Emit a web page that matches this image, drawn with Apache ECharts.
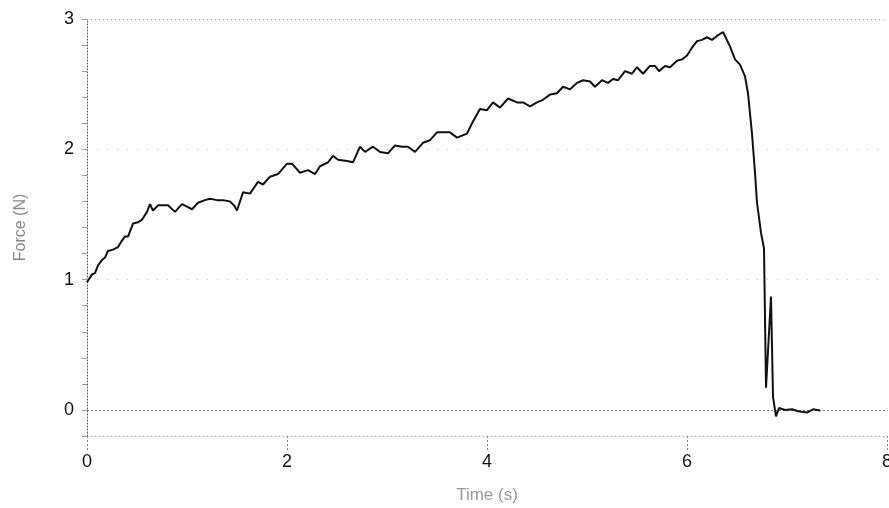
<!DOCTYPE html>
<html>
<head>
<meta charset="utf-8">
<script src="https://cdn.jsdelivr.net/npm/echarts@6/dist/echarts.min.js"></script>
<style>
html,body{margin:0;padding:0;background:#fff;}
#c{width:889px;height:508px;}
</style>
</head>
<body>
<div id="c"></div>
<script>
const timeS = [0, 0.05, 0.08, 0.11, 0.15, 0.18, 0.21, 0.26, 0.31, 0.35, 0.38, 0.41, 0.46, 0.51, 0.55, 0.60, 0.63, 0.66, 0.71, 0.78, 0.81, 0.88, 0.95, 1.0, 1.05, 1.11, 1.18, 1.23, 1.30, 1.36, 1.43, 1.47, 1.50, 1.53, 1.56, 1.63, 1.71, 1.76, 1.83, 1.91, 2.0, 2.05, 2.13, 2.21, 2.28, 2.33, 2.41, 2.46, 2.51, 2.6, 2.66, 2.73, 2.78, 2.86, 2.93, 3.01, 3.08, 3.15, 3.21, 3.28, 3.36, 3.43, 3.50, 3.55, 3.63, 3.70, 3.80, 3.85, 3.93, 4.0, 4.06, 4.13, 4.21, 4.3, 4.36, 4.43, 4.5, 4.56, 4.63, 4.7, 4.76, 4.83, 4.9, 4.96, 5.03, 5.08, 5.15, 5.21, 5.26, 5.31, 5.38, 5.45, 5.5, 5.56, 5.63, 5.68, 5.72, 5.78, 5.83, 5.90, 5.95, 6.0, 6.05, 6.10, 6.15, 6.2, 6.25, 6.3, 6.36, 6.43, 6.48, 6.53, 6.58, 6.61, 6.65, 6.68, 6.70, 6.74, 6.77, 6.79, 6.84, 6.86, 6.89, 6.92, 6.98, 7.05, 7.11, 7.20, 7.26, 7.33];
const forceN = [0.98, 1.04, 1.05, 1.11, 1.15, 1.17, 1.22, 1.23, 1.25, 1.30, 1.33, 1.33, 1.43, 1.44, 1.46, 1.52, 1.58, 1.53, 1.57, 1.57, 1.57, 1.52, 1.58, 1.56, 1.54, 1.59, 1.61, 1.62, 1.61, 1.61, 1.60, 1.57, 1.53, 1.60, 1.67, 1.66, 1.75, 1.73, 1.79, 1.81, 1.89, 1.89, 1.82, 1.84, 1.81, 1.87, 1.90, 1.95, 1.92, 1.91, 1.90, 2.02, 1.98, 2.02, 1.98, 1.97, 2.03, 2.02, 2.02, 1.98, 2.05, 2.07, 2.13, 2.13, 2.13, 2.09, 2.12, 2.20, 2.31, 2.30, 2.36, 2.32, 2.39, 2.36, 2.36, 2.33, 2.36, 2.38, 2.42, 2.43, 2.48, 2.46, 2.51, 2.53, 2.52, 2.48, 2.53, 2.51, 2.54, 2.53, 2.60, 2.58, 2.63, 2.58, 2.64, 2.64, 2.60, 2.64, 2.63, 2.68, 2.69, 2.72, 2.78, 2.83, 2.84, 2.86, 2.84, 2.87, 2.90, 2.79, 2.69, 2.65, 2.56, 2.43, 2.12, 1.82, 1.59, 1.36, 1.24, 0.17, 0.87, 0.10, -0.05, 0.015, 0, 0.005, -0.01, -0.02, 0.005, -0.005];
const gridLevels = [1, 2, 3];
const zeroLevel = 0;
const xTitle = 'Time (s)';
const yTitle = 'Force (N)';

const chart = echarts.init(document.getElementById('c'), null, {renderer: 'canvas'});
const pts = timeS.map((t, i) => [t, forceN[i]]);
const isInt = v => Math.abs(v - Math.round(v)) < 1e-6;
chart.setOption({
  animation: false,
  backgroundColor: '#fff',
  grid: {left: 87, right: 2, top: 19, bottom: 72, containLabel: false, outerBoundsMode: 'none'},
  xAxis: {
    type: 'value', min: 0, max: 8, interval: 2,
    name: xTitle, nameLocation: 'middle', nameGap: 51,
    nameTextStyle: {color: '#999', fontSize: 17, fontFamily: 'Liberation Sans'},
    axisLine: {show: true, onZero: false, lineStyle: {color: '#aaa', type: [1, 3], width: 1}},
    axisTick: {show: true, length: 14, lineStyle: {color: '#888', type: [2, 2]}},
    axisLabel: {color: '#111', fontSize: 18, margin: 17, fontFamily: 'Liberation Sans'},
    splitLine: {show: false}
  },
  yAxis: {
    type: 'value', min: -0.2, max: 3, interval: 0.2,
    name: yTitle, nameLocation: 'middle', nameGap: 58,
    nameTextStyle: {color: '#888', fontSize: 16, fontFamily: 'Liberation Sans'},
    axisLine: {show: true, onZero: false, lineStyle: {color: '#555', type: [1, 2], width: 1}},
    axisTick: {show: true, length: 5, lineStyle: {color: '#999'}},
    axisLabel: {color: '#111', fontSize: 18, margin: 13, fontFamily: 'Liberation Sans',
      formatter: v => (isInt(v) && v >= 0) ? String(Math.round(v)) : ''},
    splitLine: {show: false}
  },
  series: [{
    type: 'line',
    data: pts,
    showSymbol: false,
    lineStyle: {color: '#111', width: 2},
    z: 5,
    markLine: {
      silent: true, symbol: 'none', label: {show: false}, animation: false,
      data: [
        ...gridLevels.map(v => ({yAxis: v, lineStyle: {color: v === 3 ? '#aaa' : '#c4c4c4', type: v === 3 ? [1, 3] : [1, 9], width: 1}})),
        {yAxis: zeroLevel, lineStyle: {color: '#777', type: [2, 2], width: 1}}
      ]
    }
  }]
});
</script>
</body>
</html>
